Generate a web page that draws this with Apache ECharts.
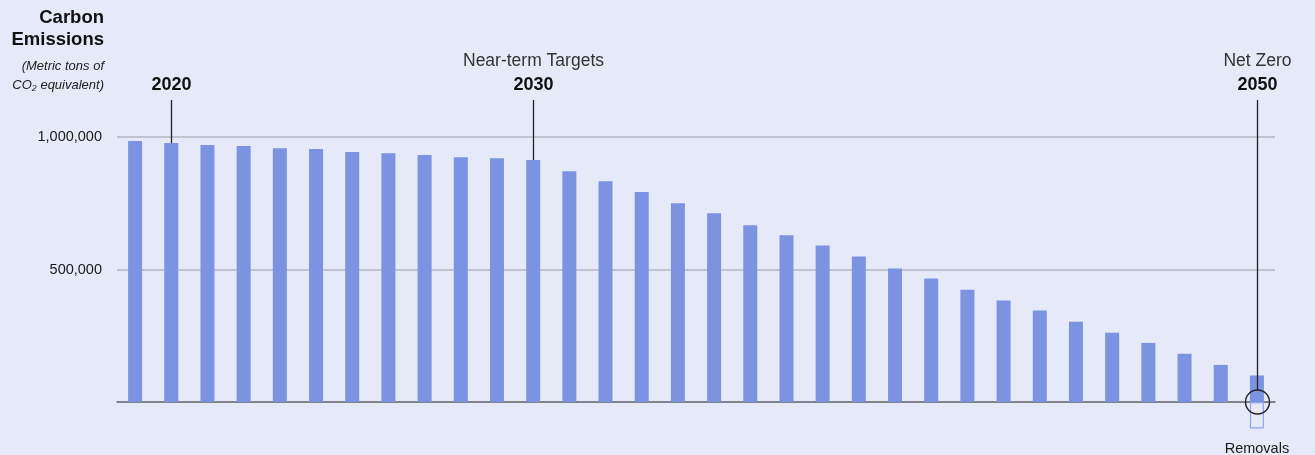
<!DOCTYPE html>
<html>
<head>
<meta charset="utf-8">
<script src="https://cdn.jsdelivr.net/npm/echarts@6/dist/echarts.min.js"></script>
<style>
  html, body { margin: 0; padding: 0; background: #e6e9f8; }
  #chart { width: 1315px; height: 455px; }
</style>
</head>
<body>
<div id="chart"></div>
<script>
  // data
  var years = ['2019', '2020', '2021', '2022', '2023', '2024', '2025', '2026', '2027', '2028', '2029', '2030',
    '2031', '2032', '2033', '2034', '2035', '2036', '2037', '2038', '2039', '2040', '2041', '2042',
    '2043', '2044', '2045', '2046', '2047', '2048', '2049', '2050'];
  var emissions = [985000, 977000, 970000, 966000, 958000, 955000, 943000, 939000, 932000, 924000, 920000, 913000,
    871000, 833000, 792000, 750000, 712000, 667000, 629000, 591000, 549000, 504000, 466000, 424000,
    383000, 345000, 303000, 261000, 223000, 182000, 140000, 100000];
  var removalYear = '2050';
  var removalValue = -100000;
  var yTicks = [0, 500000, 1000000];
  var milestones = [
    { year: '2020', caption: '', anchor: 'bar' },
    { year: '2030', caption: 'Near-term Targets', anchor: 'bar' },
    { year: '2050', caption: 'Net Zero', anchor: 'circle' }
  ];

  var font = "'Liberation Sans', Arial, Helvetica, sans-serif";
  var barColor = '#7b93e1';

  var removals = years.map(function (y) { return y === removalYear ? removalValue : '-'; });

  var myChart = echarts.init(document.getElementById('chart'));
  myChart.setOption({
    backgroundColor: '#e6e9f8',
    animation: false,
    grid: { left: 117, right: 40, top: 137, bottom: 53 },
    xAxis: {
      type: 'category',
      data: years,
      axisLine: { show: true, lineStyle: { color: '#6c6d76', width: 1.5 } },
      axisTick: { show: false },
      axisLabel: { show: false }
    },
    yAxis: {
      type: 'value',
      min: yTicks[0],
      max: yTicks[yTicks.length - 1],
      interval: yTicks[1] - yTicks[0],
      axisLine: { show: false },
      axisTick: { show: false },
      splitLine: { lineStyle: { color: '#b3b5c2', width: 1.5 } },
      axisLabel: {
        margin: 15,
        color: '#1a1a1a',
        fontSize: 14.5,
        fontFamily: font,
        formatter: function (v) { return v === 0 ? '' : v.toLocaleString('en-US'); }
      }
    },
    series: [
      {
        name: 'Emissions',
        type: 'bar',
        stack: 'net',
        barWidth: 14,
        clip: false,
        itemStyle: { color: barColor },
        data: emissions
      },
      {
        name: 'Removals',
        type: 'bar',
        stack: 'net',
        barWidth: 14,
        clip: false,
        itemStyle: { color: 'rgba(0,0,0,0)', borderColor: '#8fa3ee', borderWidth: 1.2 },
        data: removals
      }
    ]
  });

  // annotations placed with the chart's own scales
  var graphics = [
    { type: 'text', x: 104, y: 18, style: { text: 'Carbon', font: 'bold 18.5px ' + font, fill: '#111', align: 'right', verticalAlign: 'middle' } },
    { type: 'text', x: 104, y: 40, style: { text: 'Emissions', font: 'bold 18.5px ' + font, fill: '#111', align: 'right', verticalAlign: 'middle' } },
    { type: 'text', x: 104, y: 66, style: { text: '(Metric tons of', font: 'italic 13px ' + font, fill: '#222', align: 'right', verticalAlign: 'middle' } },
    { type: 'text', x: 104, y: 85, style: { text: 'CO\u2082 equivalent)', font: 'italic 13px ' + font, fill: '#222', align: 'right', verticalAlign: 'middle' } }
  ];

  var circleR = 12;
  milestones.forEach(function (m) {
    var idx = years.indexOf(m.year);
    var top = myChart.convertToPixel({ gridIndex: 0 }, [m.year, emissions[idx]]);
    var base = myChart.convertToPixel({ gridIndex: 0 }, [m.year, 0]);
    var x = Math.round(top[0]) + 0.5;
    var yEnd = m.anchor === 'circle' ? base[1] - circleR : top[1];
    graphics.push({ type: 'line', shape: { x1: x, y1: 100, x2: x, y2: yEnd }, style: { stroke: '#222', lineWidth: 1.3 }, z: 10 });
    graphics.push({ type: 'text', x: x, y: 85, style: { text: m.year, font: 'bold 18px ' + font, fill: '#111', align: 'center', verticalAlign: 'middle' } });
    if (m.caption) {
      graphics.push({ type: 'text', x: x, y: 61, style: { text: m.caption, font: '17.5px ' + font, fill: '#333', align: 'center', verticalAlign: 'middle' } });
    }
    if (m.anchor === 'circle') {
      graphics.push({ type: 'circle', shape: { cx: x, cy: base[1], r: circleR }, style: { fill: 'none', stroke: '#222', lineWidth: 1.4 }, z: 10 });
    }
  });

  var remPos = myChart.convertToPixel({ gridIndex: 0 }, [removalYear, 0]);
  graphics.push({ type: 'text', x: remPos[0], y: 449, style: { text: 'Removals', font: '14.5px ' + font, fill: '#1a1a1a', align: 'center', verticalAlign: 'middle' } });

  myChart.setOption({ graphic: graphics });
  window.addEventListener('resize', function () { myChart.resize(); });
</script>
</body>
</html>
